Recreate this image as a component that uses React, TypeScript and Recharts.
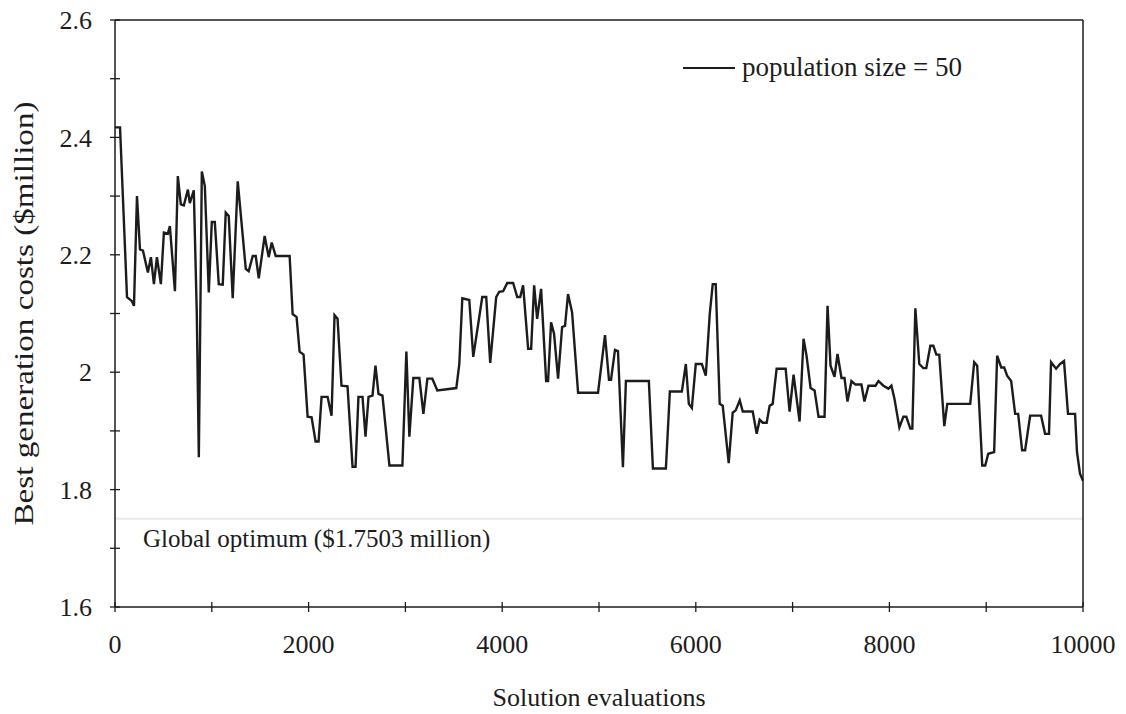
import { LineChart, Line, XAxis, YAxis, ReferenceLine } from "recharts"

// solution evaluations (x) and best generation cost in $million (y)
const evaluations = [
  0, 52, 124, 175, 196, 227, 258, 289, 340, 371, 402, 433, 474, 505, 546, 567, 619, 649, 680, 711,
  753, 773, 814, 845, 866, 897, 928, 969, 1000, 1031, 1072, 1113, 1144, 1175, 1216, 1268, 1351, 1381, 1423, 1454,
  1485, 1546, 1588, 1619, 1660, 1804, 1835, 1876, 1907, 1948, 1990, 2031, 2072, 2103, 2134, 2196, 2237, 2268, 2299, 2340,
  2402, 2454, 2485, 2515, 2557, 2588, 2619, 2660, 2691, 2722, 2763, 2835, 2969, 3010, 3041, 3082, 3144, 3186, 3227, 3278,
  3330, 3526, 3557, 3588, 3660, 3701, 3794, 3835, 3876, 3938, 3969, 4010, 4052, 4113, 4155, 4186, 4216, 4268, 4299, 4330,
  4361, 4402, 4454, 4474, 4505, 4536, 4577, 4619, 4649, 4680, 4722, 4784, 4990, 5062, 5103, 5124, 5165, 5196, 5247, 5278,
  5515, 5557, 5691, 5732, 5856, 5897, 5928, 5959, 6000, 6062, 6103, 6144, 6175, 6206, 6247, 6278, 6340, 6381, 6412, 6454,
  6485, 6588, 6629, 6660, 6691, 6732, 6763, 6794, 6835, 6928, 6969, 7010, 7072, 7113, 7144, 7186, 7227, 7268, 7330, 7361,
  7392, 7433, 7464, 7505, 7536, 7567, 7608, 7649, 7711, 7742, 7784, 7856, 7887, 7938, 7990, 8021, 8052, 8103, 8144, 8175,
  8216, 8237, 8268, 8309, 8351, 8381, 8423, 8454, 8485, 8515, 8567, 8598, 8835, 8876, 8907, 8959, 8990, 9021, 9082, 9113,
  9155, 9186, 9216, 9258, 9299, 9330, 9371, 9402, 9454, 9567, 9608, 9649, 9670, 9722, 9763, 9804, 9845, 9918, 9938, 9969,
  10000,
]

const bestCost = [
  2.417, 2.417, 2.128, 2.121, 2.113, 2.3, 2.209, 2.207, 2.17, 2.196, 2.15, 2.196, 2.15, 2.238, 2.236, 2.249, 2.138, 2.334, 2.286, 2.284,
  2.311, 2.288, 2.31, 2.099, 1.855, 2.342, 2.317, 2.136, 2.256, 2.256, 2.15, 2.149, 2.272, 2.266, 2.126, 2.325, 2.176, 2.172, 2.198, 2.198,
  2.16, 2.232, 2.196, 2.221, 2.198, 2.198, 2.099, 2.094, 2.035, 2.03, 1.924, 1.923, 1.882, 1.882, 1.958, 1.958, 1.926, 2.097, 2.091, 1.977,
  1.976, 1.839, 1.839, 1.958, 1.958, 1.89, 1.958, 1.96, 2.011, 1.963, 1.96, 1.841, 1.841, 2.035, 1.89, 1.99, 1.99, 1.929, 1.989, 1.989,
  1.969, 1.973, 2.014, 2.126, 2.123, 2.026, 2.128, 2.128, 2.016, 2.128, 2.137, 2.138, 2.152, 2.152, 2.128, 2.128, 2.148, 2.04, 2.04, 2.148,
  2.091, 2.142, 1.985, 1.985, 2.085, 2.065, 1.989, 2.077, 2.079, 2.133, 2.102, 1.965, 1.965, 2.063, 1.987, 1.987, 2.038, 2.036, 1.838, 1.985,
  1.985, 1.836, 1.836, 1.967, 1.967, 2.014, 1.946, 1.939, 2.014, 2.014, 1.994, 2.099, 2.15, 2.15, 1.946, 1.943, 1.845, 1.931, 1.935, 1.952,
  1.933, 1.933, 1.895, 1.919, 1.914, 1.914, 1.943, 1.946, 2.006, 2.006, 1.933, 1.996, 1.916, 2.057, 2.028, 1.973, 1.969, 1.924, 1.924, 2.113,
  2.011, 1.992, 2.031, 1.99, 1.99, 1.95, 1.985, 1.979, 1.979, 1.95, 1.977, 1.977, 1.985, 1.977, 1.972, 1.977, 1.955, 1.906, 1.924, 1.924,
  1.904, 1.904, 2.109, 2.014, 2.007, 2.007, 2.045, 2.045, 2.03, 2.03, 1.908, 1.946, 1.946, 2.017, 2.011, 1.841, 1.841, 1.861, 1.864, 2.028,
  2.008, 2.008, 1.994, 1.985, 1.929, 1.929, 1.867, 1.867, 1.926, 1.926, 1.895, 1.895, 2.017, 2.006, 2.014, 2.019, 1.929, 1.929, 1.864, 1.827,
  1.815,
]

const xTicks = [0, 1000, 2000, 3000, 4000, 5000, 6000, 7000, 8000, 9000, 10000]
const xLabels = [0, 2000, 4000, 6000, 8000, 10000]
const yTicks = [1.6, 1.7, 1.8, 1.9, 2.0, 2.1, 2.2, 2.3, 2.4, 2.5, 2.6]
const yLabels = ["1.6", "1.8", "2", "2.2", "2.4", "2.6"]
const globalOptimum = 1.7503

const data = evaluations.map((e, i) => ({ e, cost: bestCost[i] }))

const font = "'Liberation Serif', 'Times New Roman', serif"
const ink = "#1c1c1c"

function XTick(props: any) {
  const { x, y, payload } = props
  const axisY = y - 28
  const showLabel = xLabels.includes(payload.value)
  return (
    <g>
      <line x1={x} x2={x} y1={axisY - 5} y2={axisY + 5} stroke={ink} strokeWidth={1.3} />
      {showLabel && (
        <text x={x} y={y} dy="0.71em" textAnchor="middle" fontSize={26} fontFamily={font} fill={ink}>
          {payload.value}
        </text>
      )}
    </g>
  )
}

function YTick(props: any) {
  const { x, y, payload } = props
  const axisX = x + 23
  const label = String(Math.round(payload.value * 10) / 10)
  const showLabel = yLabels.includes(label)
  return (
    <g>
      <line x1={axisX - 5} x2={axisX + 5} y1={y} y2={y} stroke={ink} strokeWidth={1.3} />
      {showLabel && (
        <text x={x} y={y} dy="0.35em" textAnchor="end" fontSize={26} fontFamily={font} fill={ink}>
          {label}
        </text>
      )}
    </g>
  )
}

function YLabel(props: any) {
  const vb = props.viewBox || { x: 0, y: 20, width: 115, height: 587 }
  const cx = 24
  const cy = vb.y + vb.height / 2
  return (
    <text
      x={cx}
      y={cy}
      transform={`rotate(-90 ${cx} ${cy})`}
      textAnchor="middle"
      dominantBaseline="central"
      fontSize={27}
      fontFamily={font}
      fill={ink}
      textLength={424}
      lengthAdjust="spacingAndGlyphs"
    >
      Best generation costs ($million)
    </text>
  )
}

function OptimumLabel(props: any) {
  const vb = props.viewBox || { x: 0, y: 0 }
  return (
    <text x={vb.x + 28} y={vb.y + 28} fontSize={25} fontFamily={font} fill={ink}>
      Global optimum ($1.7503 million)
    </text>
  )
}

export default function App() {
  return (
    <div style={{ position: "absolute", left: 0, top: 0, width: 1126, height: 714, background: "#fff" }}>
      <LineChart width={1126} height={714} data={data} margin={{ top: 20, right: 43, bottom: 0, left: 0 }}>
        <XAxis
          dataKey="e"
          type="number"
          domain={[0, 10000]}
          ticks={xTicks}
          interval={0}
          tickSize={0}
          tickMargin={28}
          tick={<XTick />}
          stroke={ink}
          strokeWidth={1.5}
          height={107}
          label={{ value: "Solution evaluations", position: "insideBottom", offset: 8, fontSize: 26, fontFamily: font, fill: ink }}
        />
        <YAxis
          type="number"
          domain={[1.6, 2.6]}
          ticks={yTicks}
          interval={0}
          tickSize={0}
          tickMargin={23}
          tick={<YTick />}
          stroke={ink}
          strokeWidth={1.5}
          width={115}
          label={<YLabel />}
        />
        <ReferenceLine y={globalOptimum} stroke="#e8e8e8" strokeWidth={2} label={<OptimumLabel />} />
        <ReferenceLine y={2.6} stroke={ink} strokeWidth={1.5} />
        <ReferenceLine x={10000} stroke={ink} strokeWidth={1.5} />
        <Line
          type="linear"
          dataKey="cost"
          stroke={ink}
          strokeWidth={2.4}
          dot={false}
          activeDot={false}
          isAnimationActive={false}
        />
      </LineChart>
      <div
        style={{
          position: "absolute",
          left: 683,
          top: 52,
          display: "flex",
          alignItems: "center",
          fontFamily: font,
          fontSize: 27,
          color: ink,
        }}
      >
        <span style={{ display: "inline-block", width: 52, height: 2, background: ink, marginRight: 7 }} />
        <span>population size = 50</span>
      </div>
    </div>
  )
}
